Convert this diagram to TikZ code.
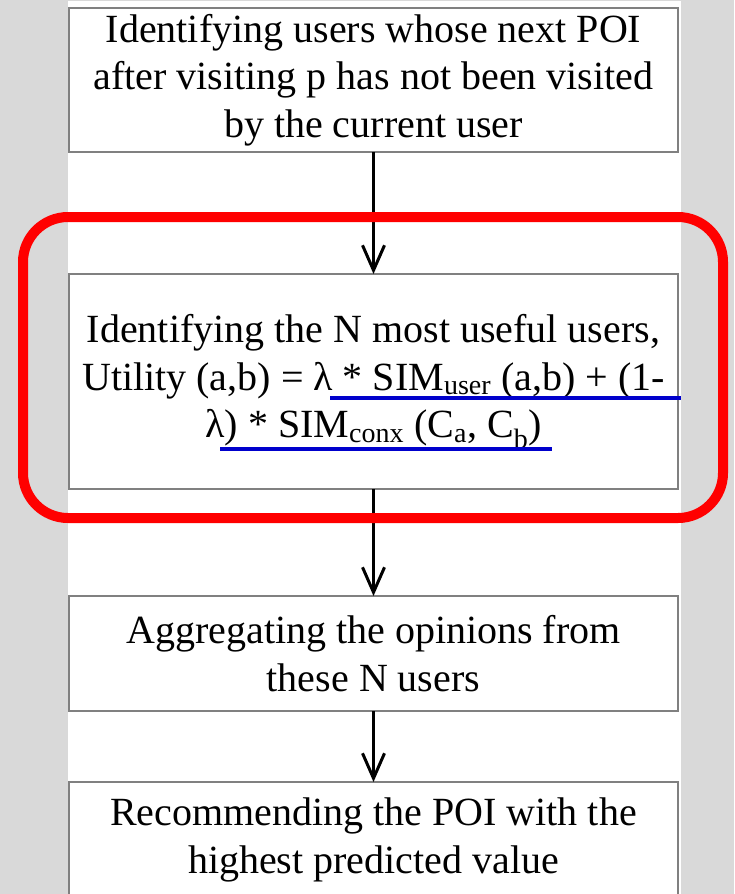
\documentclass[tikz,border=0pt]{standalone}
\usepackage{fontspec}
\setmainfont{Liberation Serif}
\usepackage{tikz}
\usetikzlibrary{arrows.meta,positioning}
\definecolor{pagegray}{RGB}{217,217,217}
\definecolor{framegray}{RGB}{128,128,128}
\definecolor{markblue}{RGB}{0,0,204}

\begin{document}
\begin{tikzpicture}[x=1pt, y=-1pt,
    X/.style = {rectangle, draw=framegray, line width=1.5pt,% styles of the step boxes
                minimum width=609pt, inner sep=0pt, outer sep=0pt,
                align=center, font=\fontsize{40}{47.5}\selectfont},
    L/.style = {line width=2.5pt, -{Straight Barb[length=25pt,width=22pt,line width=3pt]}},% flow arrows
    R/.style = {draw=red, line width=10pt, rounded corners=45pt},% highlight frame
    U/.style = {draw=markblue, line width=4pt},% underlines
                        ]
\useasboundingbox (0,0) rectangle (734,894);
\clip (0,0) rectangle (734,894);
\fill[pagegray] (0,0) rectangle (734,894);
\fill[white] (68,1) rectangle (681,894);
% the four steps
\node[X, minimum height=144pt] (A-1) at (373.5,80)
    {Identifying users whose next POI\\ after visiting p has not been visited\\ by the current user};
\node[X, minimum height=215pt, below=122pt of A-1] (A-2)
    {Identifying the N most useful users,\\
     Utility (a,b) = λ * SIM\textsubscript{user} (a,b) + (1-\\
     λ) * SIM\textsubscript{conx} (C\textsubscript{a}, C\textsubscript{b})};
\node[X, minimum height=115pt, below=107pt of A-2] (A-3)
    {Aggregating the opinions from\\ these N users};
\node[X, minimum height=116pt, below=71pt of A-3] (A-4)
    {Recommending the POI with the\\ highest predicted value};
\foreach \i/\j in {1/2,2/3,3/4}% <-- arrows between the steps
    \draw[L] (A-\i.south) -- (A-\j.north);
% marked part of the formula
\draw[U] (330,398) -- (681,398);
\draw[U] (220,449) -- (552,449);
\draw[R] (23,217) rectangle (723,518);
\end{tikzpicture}
\end{document}
